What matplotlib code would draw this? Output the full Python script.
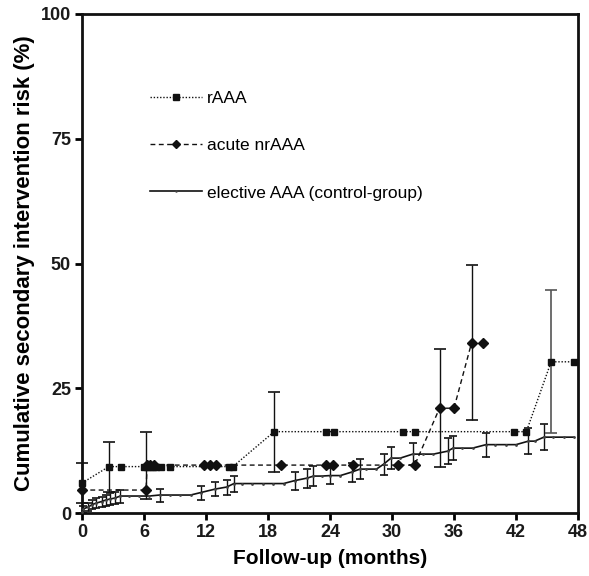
import matplotlib
matplotlib.use("Agg")
import matplotlib.pyplot as plt
import numpy as np

plt.rcParams['font.family'] = ['Liberation Sans', 'DejaVu Sans']

# rAAA (squares, dotted)
r_x = [0, 2.6, 3.8, 6.0, 6.3, 6.6, 6.9, 7.2, 7.6, 8.5, 14.2, 14.6, 18.6, 23.6, 24.4, 31.1, 32.2, 41.8, 43.0, 45.4, 47.6]
r_y = [6.0, 9.3, 9.3, 9.3, 9.3, 9.3, 9.3, 9.3, 9.3, 9.3, 9.3, 9.3, 16.3, 16.3, 16.3, 16.3, 16.3, 16.3, 16.3, 30.3, 30.3]
r_err_x = [0, 2.6, 18.6, 45.4]
r_err_y = [6.0, 9.3, 16.3, 30.3]
r_err = [4.0, 5.0, 8.0, 14.3]

# acute nrAAA (diamonds, dashed)
a_x = [0, 6.2, 6.3, 6.6, 7.0, 11.8, 12.4, 13.0, 19.3, 23.6, 24.3, 26.2, 30.6, 32.2, 34.6, 36.0, 37.7, 38.8]
a_y = [4.6, 4.6, 9.6, 9.6, 9.6, 9.6, 9.6, 9.6, 9.6, 9.6, 9.6, 9.6, 9.6, 9.6, 21.0, 21.0, 34.1, 34.1]
a_err_x = [6.2, 34.6, 37.7]
a_err_y = [9.6, 21.0, 34.1]
a_err = [6.7, 11.8, 15.5]

# elective AAA (control-group)
c_x = [0, 0.1, 0.6, 1.0, 1.4, 1.9, 2.3, 2.7, 3.2, 3.7, 4.5, 5.5, 6.5, 7.5, 8.5, 9.5, 10.5,
       11.5, 12.9, 14.0, 14.7, 15.5, 16.5, 17.5, 18.5, 19.5, 20.6, 21.8, 22.4, 23.2, 24.0,
       25.0, 26.1, 26.9, 27.5, 28.5, 29.2, 29.9, 30.8, 32.0, 33.0, 34.0, 35.4, 35.9, 36.8,
       37.8, 39.1, 40.0, 41.0, 42.0, 43.2, 43.8, 44.7, 45.6, 46.6, 47.6]
c_y = [0.3, 0.8, 1.2, 1.7, 2.0, 2.3, 2.6, 2.8, 3.0, 3.4, 3.4, 3.4, 3.4, 3.6, 3.6, 3.6, 3.6,
       4.1, 4.8, 5.2, 5.9, 5.9, 5.9, 5.9, 5.9, 5.9, 6.5, 7.0, 7.4, 7.4, 7.5,
       7.5, 8.2, 8.8, 8.8, 8.8, 9.8, 11.0, 11.0, 11.8, 11.8, 11.8, 12.4, 13.0, 13.0,
       13.0, 13.7, 13.7, 13.7, 13.7, 14.4, 14.4, 15.2, 15.2, 15.2, 15.2]
c_err_x = [0.1, 0.6, 1.0, 1.4, 1.9, 2.3, 2.7, 3.2, 3.7, 7.5, 11.5, 12.9, 14.0, 14.7, 20.6,
           21.8, 22.4, 24.0, 26.1, 26.9, 29.2, 29.9, 32.0, 35.4, 35.9, 39.1, 43.2, 44.7]
c_err_y = [0.8, 1.2, 1.7, 2.0, 2.3, 2.6, 2.8, 3.0, 3.4, 3.6, 4.1, 4.8, 5.2, 5.9, 6.5,
           7.0, 7.4, 7.5, 8.2, 8.8, 9.8, 11.0, 11.8, 12.4, 13.0, 13.7, 14.4, 15.2]
c_err = [0.7, 0.8, 0.9, 1.0, 1.0, 1.1, 1.2, 1.2, 1.3, 1.3, 1.4, 1.4, 1.5, 1.6, 1.8,
         1.9, 2.0, 1.6, 1.9, 2.0, 2.1, 2.2, 2.2, 2.6, 2.4, 2.4, 2.6, 2.6]

x_ticks = [0, 6, 12, 18, 24, 30, 36, 42, 48]
y_ticks = [0, 25, 50, 75, 100]

fig = plt.figure(figsize=(5.89, 5.76), dpi=100)
ax = fig.add_axes([82/589, 1-513/576, 496/589, 499/576])

k = '#111111'
# error bars
ax.errorbar(c_err_x, c_err_y, yerr=c_err, fmt='none', ecolor=k, elinewidth=1.0, capsize=3, capthick=1.2, clip_on=False, zorder=3)
ax.errorbar(r_err_x[:-1], r_err_y[:-1], yerr=r_err[:-1], fmt='none', ecolor=k, elinewidth=1.0, capsize=4, capthick=1.2, clip_on=False, zorder=3)
ax.errorbar(r_err_x[-1:], r_err_y[-1:], yerr=r_err[-1:], fmt='none', ecolor='#555555', elinewidth=1.2, capsize=4, capthick=1.2, clip_on=False, zorder=3)
ax.errorbar(a_err_x, a_err_y, yerr=a_err, fmt='none', ecolor=k, elinewidth=1.0, capsize=4, capthick=1.2, clip_on=False, zorder=3)

ax.plot(r_x, r_y, linestyle=(0, (1, 1.3)), color=k, lw=1.0, marker='s', ms=5, mfc=k, mec=k,
        clip_on=False, zorder=4, label='rAAA')
ax.plot(a_x, a_y, linestyle=(0, (3.5, 2.5)), color=k, lw=1.0, marker='D', ms=5, mfc=k, mec=k,
        clip_on=False, zorder=4, label='acute nrAAA')
ax.plot(c_x, c_y, linestyle='-', color=k, lw=1.2, marker='.', ms=2.0, mfc='#444444', mec='#444444',
        clip_on=False, zorder=4, label='elective AAA (control-group)')

ax.set_xlim(0, 48)
ax.set_ylim(0, 100)
ax.set_xticks(x_ticks)
ax.set_yticks(y_ticks)
for s in ax.spines.values():
    s.set_linewidth(2)
    s.set_color(k)
ax.tick_params(direction='out', length=5, width=2, labelsize=13, pad=3)
for lbl in ax.get_xticklabels() + ax.get_yticklabels():
    lbl.set_fontweight('bold')
    lbl.set_color('#1a1a1a')
ax.set_xlabel('Follow-up (months)', fontsize=15, fontweight='bold', labelpad=6)
ax.set_ylabel('Cumulative secondary intervention risk (%)', fontsize=16, fontweight='bold', labelpad=4)

leg = ax.legend(loc='upper left', bbox_to_anchor=(0.137, 0.846), frameon=False, fontsize=12.5,
                handlelength=3.0, handletextpad=0.3, labelspacing=1.85, borderaxespad=0, borderpad=0,
                markerscale=0.8)

fig.savefig('out.png', dpi=100)
